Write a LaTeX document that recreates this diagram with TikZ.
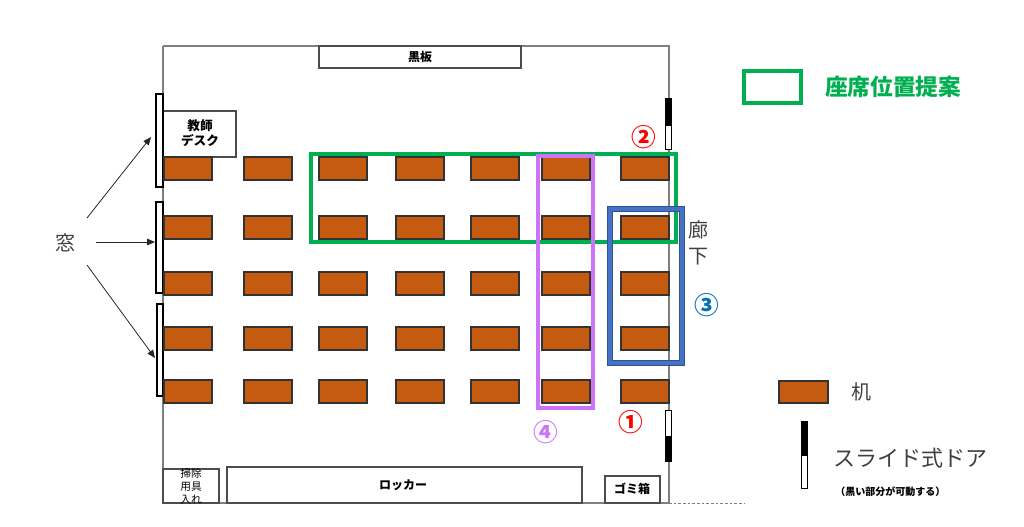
\documentclass[tikz,border=0pt]{standalone}
\usepackage{fontspec}
\newfontfamily\jp{Noto Sans CJK JP}
\usetikzlibrary{arrows.meta}
\definecolor{deskc}{HTML}{C55A11}
\definecolor{greenc}{HTML}{00B050}
\definecolor{purplec}{HTML}{CC73F8}
\definecolor{bluec}{HTML}{4472C4}
\definecolor{bluedk}{HTML}{2F528F}
\definecolor{numblue}{HTML}{0070C0}
\definecolor{wallc}{HTML}{7F7F7F}
\definecolor{txtgray}{HTML}{404040}
\tikzset{
  desk/.style={draw=black!80, fill=deskc, line width=0.9pt},
  wall/.style={draw=wallc, line width=1.1pt},
  furn/.style={draw=black!70, line width=0.8pt},
  win/.style={draw=black, fill=white, line width=0.8pt},
  lbl/.style={font=\jp\bfseries\fontsize{9}{11}\selectfont, inner sep=0pt, align=center},
  big/.style={font=\jp\fontsize{15}{17}\selectfont, inner sep=0pt, text=txtgray},
  circnum/.style={font=\jp\bfseries\fontsize{18.5}{20}\selectfont, inner sep=0pt},
  arr/.style={-{Triangle[length=6pt,width=5pt]}, line width=0.6pt, draw=black!85},
}
\begin{document}
\begin{tikzpicture}[x=0.75pt,y=-0.75pt]
\useasboundingbox (0,0) rectangle (1024,526);
% walls
\draw[wall] (163,46) -- (669,46) -- (669,503);
\draw[wall] (163,46) -- (163,503);
\draw[wall] (163,503) -- (669,503);
\draw[draw=wallc, line width=0.7pt, dash pattern=on 2pt off 1.5pt] (669,503) -- (745,503);
% blackboard
\draw[furn] (319,46) rectangle (521,68);
\node[lbl] (kokuban) at (420,57) {黒板};
% teacher desk
\draw[furn, fill=white] (163,111) rectangle (236,157);
\node[lbl, font=\jp\bfseries\fontsize{9.5}{11.5}\selectfont] (kyoushi) at (200,133) {教師\\デスク};
% windows
\draw[win] (156,94) rectangle (163,187);
\draw[win] (156,202) rectangle (163,293);
\draw[win] (157,304) rectangle (163,396);
\coordinate (w1) at (151,137);
\coordinate (w2) at (155,242);
\coordinate (w3) at (155,358);
\node[big] (mado) at (65,243) {窓};
\draw[arr] (87,218) -- (w1);
\draw[arr] (96,242) -- (w2);
\draw[arr] (87,265) -- (w3);
% desks
\foreach \r/\y in {1/157,2/216,3/272,4/327,5/380}{
  \foreach \c/\x in {1/164,2/244,3/319,4/396,5/471,6/542,7/621}{
    \draw[desk] (\x,\y) rectangle ++(48,23);
  }
}
% doors on right wall
\draw[draw=black, fill=black, line width=0.6pt] (665,98) rectangle (671,125);
\draw[draw=black, fill=white, line width=0.6pt] (665,125) rectangle (671,149);
\draw[draw=black, fill=white, line width=0.6pt] (665,410) rectangle (671,436);
\draw[draw=black, fill=black, line width=0.6pt] (665,436) rectangle (671,461);
% green proposal
\draw[draw=greenc, line width=3pt] (311,154) rectangle (676,242);
% purple
\draw[draw=purplec, line width=2.4pt] (538,156) rectangle (593,408);
% blue
\draw[draw=bluec, line width=4pt] (609.5,208.5) rectangle (682,363);
\draw[draw=bluedk, line width=0.6pt] (607,206) rectangle (684.5,365.5);
\draw[draw=bluedk, line width=0.6pt] (612,211) rectangle (679.5,360.5);
% labels
\node[circnum, text=red] (n2) at (644,137) {②};
\node[circnum, text=red] (n1) at (631,422) {①};
\node[circnum, text=numblue] (n3) at (707,305) {③};
\node[circnum, text=purplec] (n4) at (546,432) {④};
\node[big, align=center, font=\jp\fontsize{15}{19}\selectfont] (rouka) at (698,243) {廊\\下};
% bottom furniture
\draw[furn] (163,469) rectangle (219,503);
\node[lbl, font=\jp\fontsize{8}{9.75}\selectfont] (souji) at (191,486) {掃除\\用具\\入れ};
\draw[furn] (227,467) rectangle (582,503);
\node[lbl] (locker) at (403,485) {ロッカー};
\draw[furn] (605,476) rectangle (660,503);
\node[lbl] (gomi) at (632,489) {ゴミ箱};
% legend
\draw[draw=greenc, line width=3.5pt] (744,71) rectangle (801,103);
\node[font=\jp\bfseries\fontsize{17}{19}\selectfont, text=greenc, inner sep=0pt, anchor=west] (zaseki) at (825,87) {座席位置提案};
\draw[desk] (779,381) rectangle (828,403);
\node[big, anchor=west] (tsukue) at (851,392) {机};
\draw[draw=black, fill=black, line width=0.6pt] (801,421) rectangle (807,455);
\draw[draw=black, fill=white, line width=0.6pt] (801,455) rectangle (807,488);
\node[big, anchor=west, font=\jp\fontsize{16.5}{18}\selectfont] (slide) at (833,458) {スライド式ドア};
\node[lbl, anchor=west, font=\jp\bfseries\fontsize{7.5}{8}\selectfont, text=black] (kadou) at (835,492) {（黒い部分が可動する）};
\end{tikzpicture}
\end{document}
